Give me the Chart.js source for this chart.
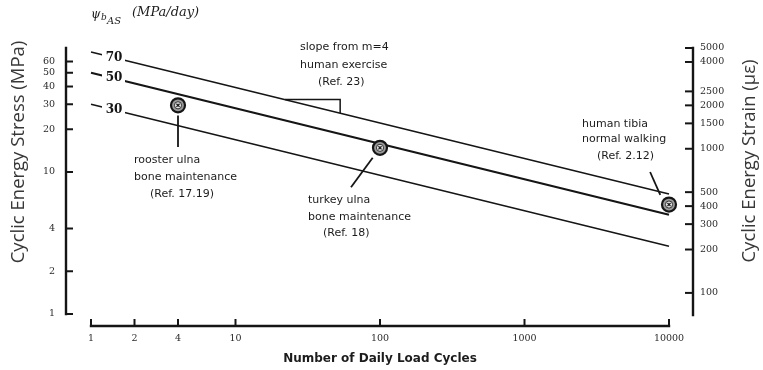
<!DOCTYPE html>
<html>
<head>
<meta charset="utf-8">
<script src="https://cdn.jsdelivr.net/npm/chart.js@4.4.0/dist/chart.umd.min.js"></script>
<style>
  html, body { margin: 0; padding: 0; background: #fff; }
  canvas { display: block; }
</style>
</head>
<body>
<canvas id="stimulus" width="763" height="370"></canvas>
<script>
// constant daily stimulus lines (m = 4), stress at 1 and 10000 cycles
const lineCycles = [1, 10000];
const stress70 = [70, 7];
const stress50 = [50, 5];
const stress30 = [30, 3];

// bone cases: rooster ulna, turkey ulna, human tibia
const caseCycles = [4, 100, 10000];
const caseStress = [29.5, 14.8, 5.9];

// leader lines from the cases to their notes
const roosterLeadX = [4, 4];
const roosterLeadY = [25, 15];
const turkeyLeadX = [89, 63];
const turkeyLeadY = [12.6, 7.8];
const tibiaLeadX = [7400, 8700];
const tibiaLeadY = [10, 6.9];

// slope triangle hanging from the 70 line
const slopeCycles = [22, 53, 53];
const slopeStress = [32.4, 32.4, 26];

const cycleTicks = [1, 2, 4, 10, 100, 1000, 10000];
const stressTicks = [1, 2, 4, 10, 20, 30, 40, 50, 60];
const strainTicks = [100, 200, 300, 400, 500, 1000, 1500, 2000, 2500, 4000, 5000];

const INK = '#151515';
const pts = (xs, ys) => xs.map((v, i) => ({ x: v, y: ys[i] }));

function stressLine(vals, width) {
  return {
    data: pts(lineCycles, vals), tag: String(vals[0]),
    showLine: true, pointRadius: 0, borderColor: INK, borderWidth: width,
    clip: false, order: 5
  };
}
function leader(xs, ys) {
  return {
    data: pts(xs, ys), showLine: true, pointRadius: 0,
    borderColor: INK, borderWidth: 1.8, clip: false, order: 6
  };
}

// axis lines and inward tick marks, set off from the plot area like the old print
const axisFrame = {
  id: 'axisFrame',
  afterDraw(chart) {
    const { ctx, chartArea: a, scales } = chart;
    const sx = scales.x, sy = scales.y, ss = scales.strain;
    ctx.save();
    ctx.strokeStyle = INK;
    ctx.lineCap = 'square';

    const lx = a.left - 25;
    ctx.lineWidth = 2.4;
    ctx.beginPath();
    ctx.moveTo(lx, sy.getPixelForValue(1));
    ctx.lineTo(lx, a.top);
    ctx.stroke();
    ctx.lineWidth = 2;
    stressTicks.forEach(v => {
      const p = sy.getPixelForValue(v);
      ctx.beginPath(); ctx.moveTo(lx, p); ctx.lineTo(lx + 6, p); ctx.stroke();
    });

    const by = a.bottom + 12;
    ctx.lineWidth = 2.4;
    ctx.beginPath();
    ctx.moveTo(sx.getPixelForValue(1), by);
    ctx.lineTo(sx.getPixelForValue(10000), by);
    ctx.stroke();
    ctx.lineWidth = 2;
    cycleTicks.forEach(v => {
      const p = sx.getPixelForValue(v);
      ctx.beginPath(); ctx.moveTo(p, by); ctx.lineTo(p, by - 6); ctx.stroke();
    });

    const rx = a.right + 24;
    ctx.lineWidth = 2.4;
    ctx.beginPath();
    ctx.moveTo(rx, a.bottom + 1);
    ctx.lineTo(rx, ss.getPixelForValue(5000));
    ctx.stroke();
    ctx.lineWidth = 2;
    strainTicks.forEach(v => {
      const p = ss.getPixelForValue(v);
      ctx.beginPath(); ctx.moveTo(rx, p); ctx.lineTo(rx - 7, p); ctx.stroke();
    });
    ctx.restore();
  }
};

// stimulus value written into each line near the left end
const lineTags = {
  id: 'lineTags',
  afterDatasetsDraw(chart) {
    const { ctx, scales } = chart;
    const tx = scales.x.getPixelForValue(1.42);
    ctx.save();
    chart.data.datasets.forEach((ds, i) => {
      if (!ds.tag) return;
      const p = chart.getDatasetMeta(i).data;
      const t = (tx - p[0].x) / (p[1].x - p[0].x);
      const ty = p[0].y + t * (p[1].y - p[0].y);
      ctx.fillStyle = '#fff';
      ctx.fillRect(tx - 11, ty - 7, 23, 14);
      ctx.fillStyle = INK;
      ctx.font = 'bold 12px "DejaVu Serif"';
      ctx.textAlign = 'center';
      ctx.textBaseline = 'middle';
      ctx.fillText(ds.tag, tx + 1, ty);
    });
    ctx.restore();
  }
};

const notes = [
  ['slope from m=4', 300, 47], ['human exercise', 300, 65], ['(Ref. 23)', 318, 82],
  ['rooster ulna', 134, 160], ['bone maintenance', 134, 177], ['(Ref. 17.19)', 150, 194],
  ['turkey ulna', 308, 200], ['bone maintenance', 308, 217], ['(Ref. 18)', 323, 233],
  ['human tibia', 582, 124], ['normal walking', 582, 139], ['(Ref. 2.12)', 597, 156]
];

const textLayer = {
  id: 'textLayer',
  afterDraw(chart) {
    const ctx = chart.ctx;
    ctx.save();
    ctx.fillStyle = '#1c1c1c';
    ctx.font = '11px "DejaVu Sans"';
    ctx.textAlign = 'left';
    ctx.textBaseline = 'middle';
    notes.forEach(([s, x, y]) => ctx.fillText(s, x, y));

    // stimulus symbol above the stress axis
    ctx.font = 'italic 12px "DejaVu Serif"';
    ctx.fillText('\u03C8', 91, 15);
    ctx.font = 'italic 9px "DejaVu Serif"';
    ctx.fillText('b', 101, 18);
    ctx.font = 'italic 10px "DejaVu Serif"';
    ctx.fillText('AS', 107, 21);
    ctx.font = 'italic 13px "DejaVu Serif"';
    ctx.fillText('(MPa/day)', 132, 13);

    // big axis titles, both reading bottom to top
    ctx.fillStyle = '#383838';
    ctx.font = '18.5px "Open Sans"';
    ctx.textAlign = 'center';
    [['Cyclic Energy Stress (MPa)', 19, 152], ['Cyclic Energy Strain (\u03BC\u03B5)', 750, 161]]
      .forEach(([s, x, y]) => {
        ctx.save();
        ctx.translate(x, y);
        ctx.rotate(-Math.PI / 2);
        ctx.fillText(s, 0, 0);
        ctx.restore();
      });
    ctx.restore();
  }
};

const tickFont = { family: 'DejaVu Serif', size: 9.5 };
const noGrid = { display: false, drawTicks: false };

new Chart(document.getElementById('stimulus'), {
  type: 'scatter',
  data: {
    datasets: [
      { data: pts(caseCycles, caseStress), pointStyle: 'crossRot', pointRadius: 2.2,
        borderColor: INK, borderWidth: 1.2, clip: false, order: 1 },
      { data: pts(caseCycles, caseStress), pointRadius: 3.6, backgroundColor: '#e4e4e4',
        borderColor: '#333', borderWidth: 1, clip: false, order: 2 },
      { data: pts(caseCycles, caseStress), pointRadius: 7, backgroundColor: '#9a9a9a',
        borderColor: INK, borderWidth: 2.2, clip: false, order: 3 },
      stressLine(stress70, 1.6),
      stressLine(stress50, 2.3),
      stressLine(stress30, 1.6),
      leader(roosterLeadX, roosterLeadY),
      leader(turkeyLeadX, turkeyLeadY),
      leader(tibiaLeadX, tibiaLeadY),
      { data: pts(slopeCycles, slopeStress), showLine: true, pointRadius: 0,
        borderColor: INK, borderWidth: 1.5, order: 7 }
    ]
  },
  options: {
    responsive: false,
    animation: false,
    devicePixelRatio: 1,
    layout: { padding: { top: 48, left: 0, right: 0, bottom: 0 } },
    plugins: { legend: { display: false }, tooltip: { enabled: false } },
    scales: {
      x: {
        type: 'logarithmic', position: 'bottom', min: 1, max: 10000,
        afterFit: s => { s.height = 56; },
        afterBuildTicks: s => { s.ticks = cycleTicks.map(v => ({ value: v })); },
        grid: noGrid, border: { display: false },
        ticks: { font: tickFont, color: '#2a2a2a', padding: 19, autoSkip: false,
                 maxRotation: 0, callback: v => String(v) },
        title: { display: true, text: 'Number of Daily Load Cycles', color: '#1c1c1c',
                 font: { family: 'DejaVu Sans', size: 12, weight: 'bold' },
                 padding: { top: 0, bottom: 4 } }
      },
      y: {
        type: 'logarithmic', position: 'left', min: 1, max: 74.7,
        afterFit: s => { s.width = 91; },
        afterBuildTicks: s => { s.ticks = stressTicks.map(v => ({ value: v })); },
        grid: noGrid, border: { display: false },
        ticks: { font: tickFont, color: '#2a2a2a', padding: 36, autoSkip: false,
                 callback: v => String(v) }
      },
      strain: {
        type: 'logarithmic', position: 'right', min: 71.4, max: 5000,
        afterFit: s => { s.width = 94; },
        afterBuildTicks: s => { s.ticks = strainTicks.map(v => ({ value: v })); },
        grid: noGrid, border: { display: false },
        ticks: { font: tickFont, color: '#2a2a2a', padding: 31, autoSkip: false,
                 callback: v => String(v) }
      }
    }
  },
  plugins: [axisFrame, lineTags, textLayer]
});
</script>
</body>
</html>
